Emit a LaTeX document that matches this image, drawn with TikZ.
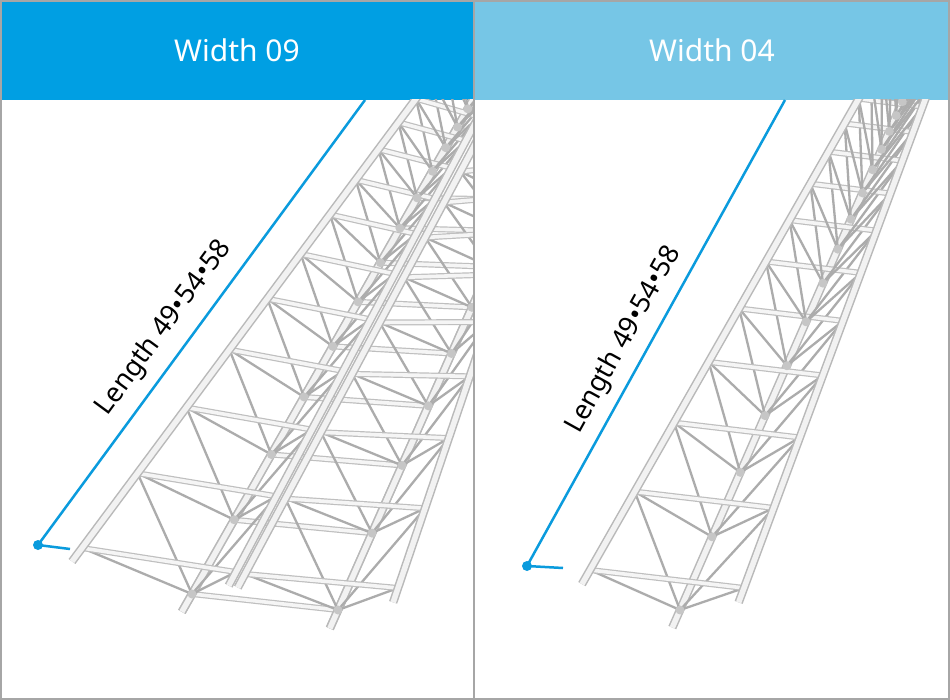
\documentclass[tikz,border=0pt]{standalone}
\usepackage{fontspec}
\setmainfont{Noto Sans}
\usetikzlibrary{calc}
\definecolor{hdA}{HTML}{009FE3}
\definecolor{hdB}{HTML}{76C6E6}
\definecolor{dim}{HTML}{0A9BDD}
\tikzset{
  railo/.style={line width=8.5pt,color=gray!55,line cap=butt},
  raili/.style={line width=5.5pt,color=gray!10,line cap=butt},
  baro/.style={line width=6pt,color=gray!50},
  bari/.style={line width=3.6pt,color=gray!8},
  diag/.style={line width=2.3pt,color=gray!65},
  dimline/.style={line width=2.5pt,color=dim},
  hdtext/.style={text=white,font=\fontsize{30}{34}\selectfont},
  lentext/.style={font=\fontsize{27}{30}\selectfont}
}
\newcommand{\truss}[2]{%
  \draw[railo] ($(#1B0)!-0.04!(#1B1)$) -- ($(#1B0)!1.2!(#1B1)$);
  \draw[raili] ($(#1B0)!-0.04!(#1B1)$) -- ($(#1B0)!1.2!(#1B1)$);
  \foreach \k in {0,...,#2}{
    \pgfmathsetmacro\fa{1.39*(1-0.88^\k)}
    \pgfmathsetmacro\fb{1.39*(1-0.88^(\k+1))}
    \draw[diag] ($(#1B0)!\fa!(#1B1)$) -- ($(#1L0)!\fa!(#1L1)$);
    \draw[diag] ($(#1B0)!\fa!(#1B1)$) -- ($(#1L0)!\fb!(#1L1)$);
    \draw[diag] ($(#1B0)!\fa!(#1B1)$) -- ($(#1R0)!\fa!(#1R1)$);
    \draw[diag] ($(#1B0)!\fa!(#1B1)$) -- ($(#1R0)!\fb!(#1R1)$);
    \fill[gray!45] ($(#1B0)!\fa!(#1B1)$) circle (4.5pt);
    \draw[baro] ($(#1L0)!\fa!(#1L1)$) -- ($(#1R0)!\fa!(#1R1)$);
    \draw[bari] ($(#1L0)!\fa!(#1L1)$) -- ($(#1R0)!\fa!(#1R1)$);
  }
  \foreach \s in {L,R}{
    \draw[railo] ($(#1\s0)!-0.03!(#1\s1)$) -- ($(#1\s0)!1.2!(#1\s1)$);
    \draw[raili] ($(#1\s0)!-0.03!(#1\s1)$) -- ($(#1\s0)!1.2!(#1\s1)$);
  }
}
\begin{document}
\begin{tikzpicture}[x=1pt,y=-1pt]
\useasboundingbox (0,0) rectangle (950,700);
\fill[white] (0,0) rectangle (950,700);
\fill[hdA] (0,0) rectangle (474,100);
\fill[hdB] (474,0) rectangle (950,100);
\node[hdtext] (h1) at (237,50) {Width 09};
\node[hdtext] (h2) at (712,50) {Width 04};
\coordinate (AL0) at (82,548); \coordinate (AL1) at (415,100);
\coordinate (AR0) at (236,572); \coordinate (AR1) at (478,118);
\coordinate (AB0) at (192,594); \coordinate (AB1) at (445,149);
\coordinate (BL0) at (245,574); \coordinate (BL1) at (487,122);
\coordinate (BR0) at (398,588); \coordinate (BR1) at (560,110);
\coordinate (BB0) at (338,610); \coordinate (BB1) at (542,149);
\coordinate (CL0) at (590,570); \coordinate (CL1) at (858,100);
\coordinate (CR0) at (744,588); \coordinate (CR1) at (922,108);
\coordinate (CB0) at (680,610); \coordinate (CB1) at (872,171);
\begin{scope}
\clip (1,100) rectangle (473,699);
\draw[railo] ($(AB0)!-0.04!(AB1)$) -- ($(AB0)!1.2!(AB1)$);
\draw[railo] ($(BB0)!-0.04!(BB1)$) -- ($(BB0)!1.2!(BB1)$);
\foreach \k in {0,...,8}{
  \pgfmathsetmacro\fa{1.39*(1-0.88^\k)}
  \draw[baro] ($(AB0)!\fa!(AB1)$) -- ($(BB0)!\fa!(BB1)$);
  \draw[bari] ($(AB0)!\fa!(AB1)$) -- ($(BB0)!\fa!(BB1)$);
}
\truss{B}{14}
\truss{A}{14}
\end{scope}
\begin{scope}
\clip (475,100) rectangle (949,699);
\truss{C}{14}
\end{scope}
\coordinate (d1a) at (38,545); \coordinate (d1b) at (365,100); \coordinate (d1c) at (70,549);
\draw[dimline] (d1a) -- (d1b); \draw[dimline] (d1a) -- (d1c);
\fill[dim] (d1a) circle (5pt);
\coordinate (d2a) at (527,566); \coordinate (d2b) at (785,100); \coordinate (d2c) at (563,568);
\draw[dimline] (d2a) -- (d2b); \draw[dimline] (d2a) -- (d2c);
\fill[dim] (d2a) circle (5pt);
\node[lentext,rotate=53.7] (t1) at (164,328) {Length 49•54•58};
\node[lentext,rotate=61] (t2) at (624,340) {Length 49•54•58};
\draw[gray!70,line width=2pt] (1,1) rectangle (949,699);
\draw[gray!70,line width=2pt] (474,0) -- (474,700);
\end{tikzpicture}
\end{document}
